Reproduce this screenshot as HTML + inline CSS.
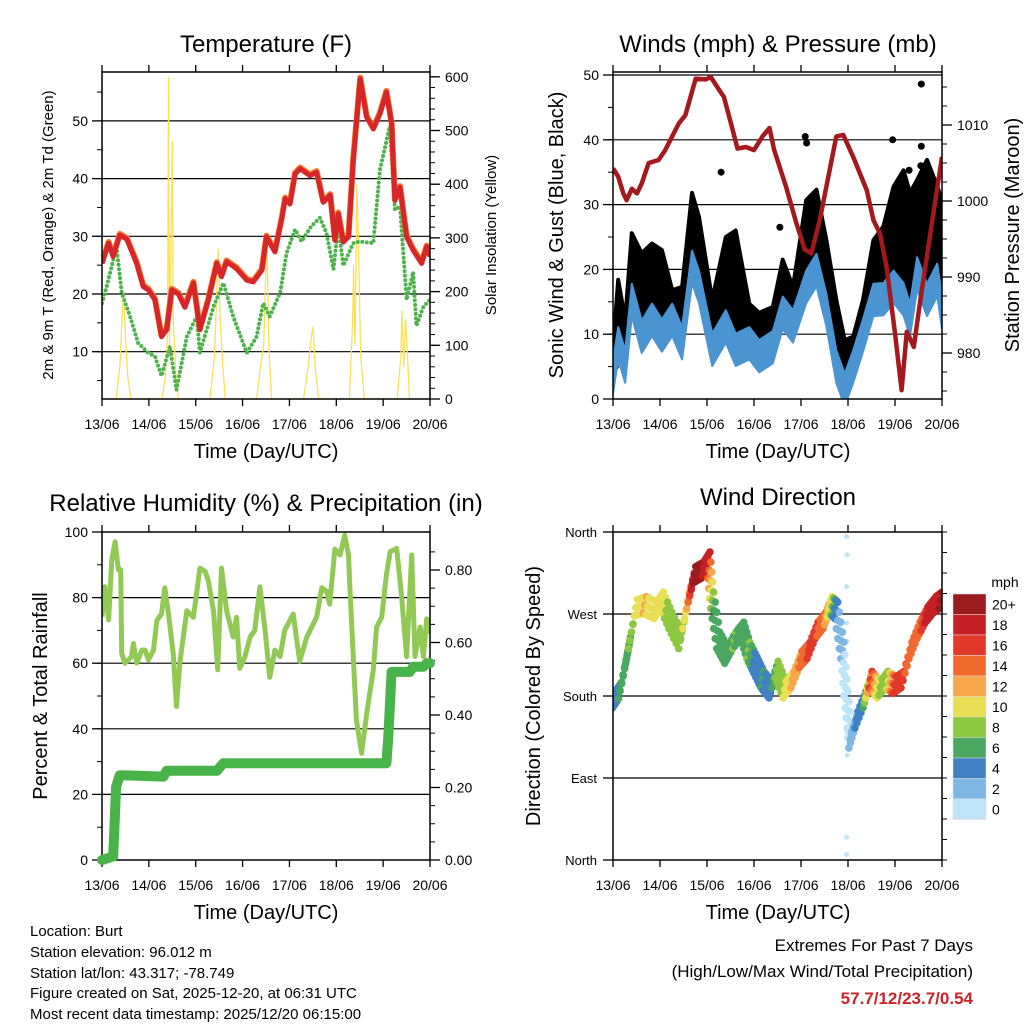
<!DOCTYPE html>
<html><head><meta charset="utf-8"><style>
html,body{margin:0;padding:0;background:#fff;}
svg{display:block;font-family:"Liberation Sans",sans-serif;}
</style></head><body>
<svg id="chart" width="1024" height="1024" viewBox="0 0 1024 1024" xmlns="http://www.w3.org/2000/svg">
<defs>
<clipPath id="c1"><rect x="102" y="72" width="328" height="327"/></clipPath>
<clipPath id="c2"><rect x="613" y="72" width="329" height="327"/></clipPath>
<clipPath id="c3"><rect x="102" y="532" width="328" height="328"/></clipPath>
<clipPath id="c4"><rect x="613" y="532" width="329" height="328"/></clipPath>
</defs>
<rect x="0" y="0" width="1024" height="1024" fill="#fff"/>
<text x="266" y="52" font-size="24" text-anchor="middle">Temperature (F)</text>
<text x="778" y="52" font-size="24" text-anchor="middle">Winds (mph) &amp; Pressure (mb)</text>
<text x="266" y="511" font-size="24" text-anchor="middle">Relative Humidity (%) &amp; Precipitation (in)</text>
<text x="778" y="505" font-size="24" text-anchor="middle">Wind Direction</text>
<text x="266" y="458" font-size="20" text-anchor="middle">Time (Day/UTC)</text>
<text x="778" y="458" font-size="20" text-anchor="middle">Time (Day/UTC)</text>
<text x="266" y="919" font-size="20" text-anchor="middle">Time (Day/UTC)</text>
<text x="778" y="919" font-size="20" text-anchor="middle">Time (Day/UTC)</text>
<text transform="translate(53,235) rotate(-90)" font-size="15" text-anchor="middle">2m &amp; 9m T (Red, Orange) &amp; 2m Td (Green)</text>
<text transform="translate(496,235) rotate(-90)" font-size="15" text-anchor="middle">Solar Insolation (Yellow)</text>
<text transform="translate(563,235) rotate(-90)" font-size="20" text-anchor="middle">Sonic Wind &amp; Gust (Blue, Black)</text>
<text transform="translate(1019,235) rotate(-90)" font-size="20" text-anchor="middle">Station Pressure (Maroon)</text>
<text transform="translate(47,696) rotate(-90)" font-size="20" text-anchor="middle">Percent &amp; Total Rainfall</text>
<text transform="translate(540,696) rotate(-90)" font-size="20" text-anchor="middle">Direction (Colored By Speed)</text>
<g font-size="15">
<text x="30" y="936">Location: Burt</text>
<text x="30" y="957">Station elevation: 96.012 m</text>
<text x="30" y="978">Station lat/lon: 43.317; -78.749</text>
<text x="30" y="998">Figure created on Sat, 2025-12-20, at 06:31 UTC</text>
<text x="30" y="1019">Most recent data timestamp: 2025/12/20 06:15:00</text>
</g>
<text x="973" y="951" font-size="17" text-anchor="end">Extremes For Past 7 Days</text>
<text x="973" y="977" font-size="17" text-anchor="end">(High/Low/Max Wind/Total Precipitation)</text>
<text x="973" y="1004" font-size="17" font-weight="bold" fill="#cc2229" text-anchor="end">57.7/12/23.7/0.54</text>
<text x="1005" y="587" font-size="14" text-anchor="middle">mph</text>
</svg>
<script>
// ---------- data ----------
const dayLabels = ["13/06","14/06","15/06","16/06","17/06","18/06","19/06","20/06"];
const tempTimes = [0,.14,.24,.38,.53,.74,.88,.99,1.13,1.27,1.38,1.49,1.63,1.77,1.95,2.09,2.27,2.45,2.55,2.66,2.87,3.09,3.23,3.41,3.51,3.69,3.83,3.91,4.01,4.12,4.23,4.44,4.58,4.72,4.87,4.97,5.04,5.15,5.26,5.36,5.51,5.65,5.79,5.93,6.07,6.18,6.25,6.36,6.50,6.64,6.82,6.93,7.0];
const tempValues = [25.3,28.8,26.5,30.2,29.5,25.3,21.3,20.7,19,12.6,13.8,20.7,20,17.7,21.9,13.8,19,25.3,23,25.6,24.4,22.4,22.1,24.1,29.9,27.3,32.8,36.5,35.6,40.8,41.7,40.5,41.1,35.9,37.1,29.3,33.9,29,29.9,43.1,57.3,50.6,48.6,51.2,55,49.5,36.2,38.5,29.9,27.6,25.3,28.2,26.5];
const dewTimes = [0,.10,.31,.42,.60,.77,.99,1.13,1.27,1.45,1.59,1.81,2.02,2.09,2.38,2.59,2.80,3.09,3.30,3.44,3.58,3.80,3.94,4.12,4.26,4.47,4.65,4.79,4.94,5.04,5.15,5.36,5.50,5.79,5.93,6.14,6.25,6.36,6.50,6.64,6.71,6.86,7.0];
const dewValues = [18.4,21.3,28.2,20.2,16.1,11.5,9.8,9.2,5.8,10.9,3.4,12.6,16.1,9.8,17.8,21.9,16.1,9.8,12.6,18.4,16.1,20.2,27.1,31.2,29.1,31.8,33.2,30.6,24.3,31.8,24.9,28.8,29.1,28.8,41.5,49,34.6,35.2,19,23.8,14.5,17.8,19];
const solarTimes = [0,0.30,0.38,0.43,0.46,0.50,0.55,0.62,1.28,1.35,1.40,1.42,1.44,1.50,1.52,1.58,1.63,2.30,2.40,2.45,2.48,2.52,2.58,2.63,3.30,3.38,3.45,3.52,3.56,3.62,4.30,4.40,4.46,4.50,4.55,4.62,5.28,5.35,5.37,5.40,5.44,5.47,5.52,5.60,6.30,6.38,6.40,6.44,6.48,6.52,6.56,7.0];
const solarValues = [0,0,60,150,200,120,40,0,0,40,120,600,100,480,150,40,0,0,80,200,280,150,60,0,0,60,100,310,100,0,0,60,110,135,60,0,0,150,250,100,400,300,80,0,0,80,165,60,150,80,0,0];
const tempTicks = [10,20,30,40,50];
const solarTicks = [0,100,200,300,400,500,600];

const windTimes = [0,.11,.26,.40,.61,.83,1.04,1.26,1.47,1.68,1.83,2.11,2.40,2.61,2.90,3.11,3.40,3.61,3.83,4.11,4.33,4.54,4.75,4.93,5.11,5.32,5.54,5.75,5.97,6.18,6.32,6.47,6.68,6.90,7.0];
const windValues = [3.4,8.6,5,15.3,9.6,12.2,9.8,12.2,8.6,20.4,17.3,7.6,11.2,7.6,8.6,6.6,8,13.3,11.2,17.3,19.9,13.7,5,1.4,5,9.8,15.3,15.4,17.3,15.4,12.2,19.4,15.3,18.4,13.3];
const gustValues = [8,18.4,12.2,25.6,22.5,24,23,16.8,17.3,31.8,28.1,15.3,25,26,14.7,13.3,14.2,21.5,17.3,30.7,32.3,24.5,15.3,9.1,9.6,15.3,24.5,26.6,32.8,35.3,31.8,33.8,36.9,32.8,30.7];
const gustOutlierTimes = [6.56,6.56,6.55,4.09,4.12,5.95,6.30,0.05,2.30,3.55];
const gustOutlierValues = [48.6,39,36,40.5,39.5,40,35.3,5,35,26.5];
const presTimes = [0,.11,.22,.29,.40,.51,.61,.76,.97,1.11,1.26,1.40,1.54,1.76,1.97,2.08,2.26,2.36,2.51,2.65,2.83,3.00,3.18,3.33,3.43,3.68,3.90,4.08,4.22,4.40,4.61,4.75,4.90,5.11,5.40,5.54,5.68,5.82,6.00,6.14,6.25,6.40,6.54,6.75,7.0];
const presValues = [1004.3,1003.2,1001,1000.1,1001.6,1001,1002.3,1005,1005.4,1006.7,1008.5,1010.2,1011.3,1016.1,1016,1016.3,1014.6,1013.7,1010.2,1006.9,1007.1,1006.7,1008.5,1009.6,1006.7,1001.9,997.1,993.6,993.1,997.5,1004.1,1008.5,1008.7,1005.8,1001.4,997.5,995.7,991.4,982.6,975.1,982.8,980.8,987,995.7,1005.8];
const windTicks = [0,10,20,30,40,50];
const presTicks = [980,990,1000,1010];

const rhTimes = [0,.06,.14,.21,.28,.35,.40,.42,.49,.63,.67,.74,.85,.92,.99,1.10,1.17,1.27,1.34,1.42,1.52,1.59,1.66,1.81,1.95,2.09,2.20,2.27,2.38,2.47,2.55,2.66,2.80,2.87,2.94,3.05,3.16,3.26,3.37,3.48,3.58,3.69,3.80,3.90,4.08,4.22,4.37,4.58,4.69,4.79,4.86,4.97,5.08,5.18,5.26,5.29,5.43,5.54,5.65,5.79,5.86,5.97,6.07,6.15,6.29,6.39,6.50,6.61,6.68,6.79,6.86,6.93,7.0];
const rhValues = [74.2,83.3,73.2,91.5,97,88.5,88.5,63,60,62,66,60,64,64,61,64,73,75,83,75,63,46.8,60,76,74,89,88,85,76,58,89,76,68,74,58.4,62,68,70,83.3,70,55.7,64,62,70,75,60.6,68,74,83,82,78,94.8,93,99,93,83,42.7,32.5,44.7,58,71,74,87,94,95,81,62,93,62,71,62,73.5,69];
const precipTimes = [0,0.24,0.30,0.38,1.31,1.38,2.45,2.59,6.07,6.11,6.18,6.57,6.64,6.86,6.93,7.0];
const precipValues = [0,0.01,0.202,0.234,0.230,0.246,0.246,0.267,0.267,0.340,0.519,0.519,0.533,0.533,0.543,0.543];
const rhTicks = [0,20,40,60,80,100];
const precipTicks = ["0.00","0.20","0.40","0.60","0.80"];

const dirTimes = [.02,.15,.28,.36,.49,.68,.90,1.04,1.22,1.43,1.60,1.73,1.90,2.03,2.11,2.24,2.41,2.58,2.75,2.88,3.03,3.18,3.35,3.48,3.65,3.82,3.99,4.16,4.33,4.50,4.63,4.75,4.88,4.97,5.05,5.18,5.35,5.48,5.65,5.82,5.99,6.16,6.33,6.50,6.67,6.84,6.97];
const dirValues = [176,186,219,241,277,280,274,285,263,241,285,313,318,329,285,241,225,241,252,230,214,198,187,209,187,198,220,230,252,263,280,274,230,176,132,154,176,198,187,198,192,198,230,252,269,280,285];
const dirSpeeds = [5,6,7,8,10,12,10,11,8,8,13,20,20,18,8,6,7,8,6,8,5,6,4,8,10,12,14,16,16,14,10,4,2,1,2,4,6,16,10,8,16,17,14,15,18,19,20];
const dirOutlierTimes = [4.97,4.97,4.98,4.98,4.97,4.98,4.97,4.98,4.97];
const dirOutlierValues = [6,25,115,140,300,335,355,240,260];
const dirTickLabels = ["North","East","South","West","North"];
const dirTickValues = [0,90,180,270,360];
const cbLabels = ["20+","18","16","14","12","10","8","6","4","2","0"];
const cbColors = ["#9b1c1f","#c52026","#e2392b","#f06a2e","#f7a64a","#e8df55","#8cc73f","#4aa761","#3f81c2","#7eb7e3","#bfe3f7"];

// ---------- helpers ----------
const NS = "http://www.w3.org/2000/svg";
const svg = document.getElementById("chart");
function mk(tag, parent) { const e = document.createElementNS(NS, tag); (parent || svg).appendChild(e); return e; }
function setA(e, o) { for (const k in o) e.setAttribute(k, o[k]); return e; }
function line(x1,y1,x2,y2,stroke,w,parent){ const e=mk("line",parent); setA(e,{x1:x1,y1:y1,x2:x2,y2:y2,stroke:stroke,"stroke-width":w}); return e; }
function txt(x,y,s,size,anchor,parent){ const e=mk("text",parent); setA(e,{x:x,y:y,"font-size":size,"text-anchor":anchor}); e.textContent=s; return e; }
function ptsStr(ts, vs, xf, yf) { return ts.map((t,i)=>xf(t).toFixed(1)+","+yf(vs[i]).toFixed(1)).join(" "); }

const P1 = {x0:102,x1:430,y0:72,y1:399};
const P2 = {x0:613,x1:942,y0:72,y1:399};
const P3 = {x0:102,x1:430,y0:532,y1:860};
const P4 = {x0:613,x1:942,y0:532,y1:860};
function xs(P){ return t => P.x0 + t*(P.x1-P.x0)/7; }
const x1f = xs(P1), x2f = xs(P2), x3f = xs(P3), x4f = xs(P4);
const yTemp = v => 351.7 - (v-10)*5.77;
const ySolar = v => 399 - v*0.537;
const yWind = v => 399 - v*6.48;
const yPres = v => 353 - (v-980)*7.6;
const yRH = v => 860 - v*3.28;
const yPrecip = v => 860 - v*362.5;
const yDir = v => 860 - v*328/360;

function frame(P, key) {
  for (let d=0; d<=7; d++) {
    const x = P.x0 + d*(P.x1-P.x0)/7;
    const tb = line(x,P.y1,x,P.y1+7,"#000",1.3);
    
    
    const tt = line(x,P.y0,x,P.y0-7,"#000",1.3);
    
    
    const lb = txt(x,P.y1+30,dayLabels[d],14,"middle");
    
    
  }
}
function box(P, key) {
  const r = mk("rect");
  setA(r,{x:P.x0,y:P.y0,width:P.x1-P.x0,height:P.y1-P.y0,fill:"none",stroke:"#000","stroke-width":1.5});
  
  
}
function leftAxis(P, key, ticks, yf, labels, minorStep, lo, hi, grid) {
  for (let v=lo; v<=hi+1e-9; v+=minorStep) {
    const y=yf(v); if (y<P.y0-0.5||y>P.y1+0.5) continue;
    const m = line(P.x0-5,y,P.x0,y,"#000",1);
    
    
  }
  ticks.forEach((v,i)=>{
    const y=yf(v);
    const t=line(P.x0-10,y,P.x0,y,"#000",1.3);
    
    
    if (grid && y>P.y0+1 && y<P.y1-1) {
      const g=line(P.x0,y,P.x1,y,"#000",1.2);
      
      
    }
    const l=txt(P.x0-14,y+5,labels?labels[i]:String(v),14,"end");
    
    
  });
}
function rightAxis(P, key, ticks, yf, labels, minorVals) {
  minorVals.forEach(v=>{
    const y=yf(v); if (y<P.y0-0.5||y>P.y1+0.5) return;
    const m=line(P.x1,y,P.x1+5,y,"#000",1);
    
    
  });
  ticks.forEach((v,i)=>{
    const y=yf(v);
    const t=line(P.x1,y,P.x1+10,y,"#000",1.3);
    
    
    const l=txt(P.x1+15,y+5,labels?labels[i]:String(v),14,"start");
    
    
  });
}
function clipG(id, name) {
  const g=mk("g"); g.setAttribute("clip-path","url(#"+id+")");
  
  
  return g;
}

// ---------- Panel 1: Temperature ----------
frame(P1,"temp");
leftAxis(P1,"temp",tempTicks,yTemp,null,5,5,55,true);
const solarMinor=[]; for (let v=0; v<=600; v+=20) solarMinor.push(v);
rightAxis(P1,"solar",solarTicks,ySolar,null,solarMinor);
const g1 = clipG("c1","temperature-plot-area");
const solarLine = mk("polyline", g1);
setA(solarLine,{points:ptsStr(solarTimes,solarValues,x1f,ySolar),fill:"none",stroke:"#fbe05a","stroke-width":1.3});


const dewLine = mk("polyline", g1);
setA(dewLine,{points:ptsStr(dewTimes,dewValues,x1f,yTemp),fill:"none",stroke:"#4cb24a","stroke-width":4,"stroke-dasharray":"0 4.5","stroke-linecap":"round","stroke-linejoin":"round"});


const orangeLine = mk("polyline", g1);
setA(orangeLine,{points:ptsStr(tempTimes,tempValues,x1f,v=>yTemp(v)-1.2),fill:"none",stroke:"#f47a2a","stroke-width":6,"stroke-linejoin":"round"});


const redLine = mk("polyline", g1);
setA(redLine,{points:ptsStr(tempTimes,tempValues,x1f,yTemp),fill:"none",stroke:"#d7262a","stroke-width":5,"stroke-linejoin":"round"});


box(P1,"temp");

// ---------- Panel 2: Winds & Pressure ----------
frame(P2,"wind");
leftAxis(P2,"wind",windTicks,yWind,null,5,0,50,true);
const presMinor=[]; for (let v=975; v<=1017; v+=2.5) presMinor.push(v);
rightAxis(P2,"pressure",presTicks,yPres,null,presMinor);
const g2 = clipG("c2","winds-plot-area");
const gustTop = windTimes.map((t,i)=>x2f(t).toFixed(1)+","+yWind(gustValues[i]).toFixed(1));
const gustBot = windTimes.map((t,i)=>x2f(t).toFixed(1)+","+yWind(windValues[i]+2).toFixed(1)).reverse();
const gustArea = mk("polygon", g2);
setA(gustArea,{points:gustTop.concat(gustBot).join(" "),fill:"#000",stroke:"#000","stroke-width":4,"stroke-linejoin":"round"});


gustOutlierTimes.forEach((t,i)=>{
  const c=mk("circle",g2); setA(c,{cx:x2f(t),cy:yWind(gustOutlierValues[i]),r:3.5,fill:"#000"});
  
  
});
const windTop = windTimes.map((t,i)=>x2f(t).toFixed(1)+","+yWind(windValues[i]+2.5).toFixed(1));
const windBot = windTimes.map((t,i)=>x2f(t).toFixed(1)+","+yWind(windValues[i]-2.5).toFixed(1)).reverse();
const windBand = mk("polygon", g2);
setA(windBand,{points:windTop.concat(windBot).join(" "),fill:"#4a94d2",stroke:"#4a94d2","stroke-width":2,"stroke-linejoin":"round"});


const presLine = mk("polyline", g2);
setA(presLine,{points:ptsStr(presTimes,presValues,x2f,yPres),fill:"none",stroke:"#a3191d","stroke-width":4.5,"stroke-linejoin":"round"});


box(P2,"wind");

// ---------- Panel 3: RH & Precip ----------
frame(P3,"rh");
leftAxis(P3,"rh",rhTicks,yRH,null,10,0,100,true);
const precipMinor=[]; for (let v=0; v<=0.9; v+=0.05) precipMinor.push(v);
rightAxis(P3,"precip",precipTicks.map(Number),yPrecip,precipTicks,precipMinor);
const g3 = clipG("c3","humidity-plot-area");
const rhLine = mk("polyline", g3);
setA(rhLine,{points:ptsStr(rhTimes,rhValues,x3f,yRH),fill:"none",stroke:"#92c955","stroke-width":5,"stroke-linejoin":"round"});


box(P3,"rh");
const precipLine = mk("polyline");
setA(precipLine,{points:ptsStr(precipTimes,precipValues,x3f,yPrecip),fill:"none",stroke:"#48b348","stroke-width":10,"stroke-linejoin":"round","stroke-linecap":"round"});



// ---------- Panel 4: Wind direction ----------
frame(P4,"dir");
dirTickValues.forEach((v,i)=>{
  const y=yDir(v);
  const t=line(P4.x0-10,y,P4.x0,y,"#000",1.3);
  
  
  if (v>0 && v<360) {
    const g=line(P4.x0,y,P4.x1,y,"#000",1.2);
    
    
  }
  const l=txt(P4.x0-16,y+5,dirTickLabels[i],13,"end");
  
  
});
for (let v=0; v<=360; v+=22.5) {
  const y=yDir(v);
  const m=line(P4.x1,y,P4.x1+5,y,"#000",1);
  
  
}
const g4 = clipG("c4","direction-plot-area");
function spColor(s){ return cbColors[10-Math.min(10,Math.floor(s/2))]; }
dirOutlierTimes.forEach((t,i)=>{
  const c=mk("circle",g4); setA(c,{cx:x4f(t),cy:yDir(dirOutlierValues[i]),r:2.5,fill:cbColors[10]});
  
  
});
const spreadOffsets = [-9, 0, 9];
for (let i=0; i<dirTimes.length; i++) {
  const steps = i<dirTimes.length-1 ? 4 : 1;
  for (let k=0; k<steps; k++) {
    const f=k/steps;
    const t = i<dirTimes.length-1 ? dirTimes[i]+(dirTimes[i+1]-dirTimes[i])*f : dirTimes[i];
    const d = i<dirTimes.length-1 ? dirValues[i]+(dirValues[i+1]-dirValues[i])*f : dirValues[i];
    const s = i<dirTimes.length-1 ? dirSpeeds[i]+(dirSpeeds[i+1]-dirSpeeds[i])*f : dirSpeeds[i];
    spreadOffsets.forEach((o,j)=>{
      const c=mk("circle",g4); setA(c,{cx:x4f(t)+(j-1)*1.5,cy:yDir(d+o),r:3.8,fill:spColor(s)});
      
      
    });
  }
}
box(P4,"dir");

// colorbar
const cbTop=594, cbH=20.5;
cbLabels.forEach((lab,i)=>{
  const r=mk("rect"); setA(r,{x:953,y:cbTop+i*cbH,width:33,height:cbH,fill:cbColors[i],stroke:"#ddd","stroke-width":0.5});
  
  
  const l=txt(992,cbTop+i*cbH+cbH/2+5,lab,14,"start");
  
  
});
</script>
</body></html>
